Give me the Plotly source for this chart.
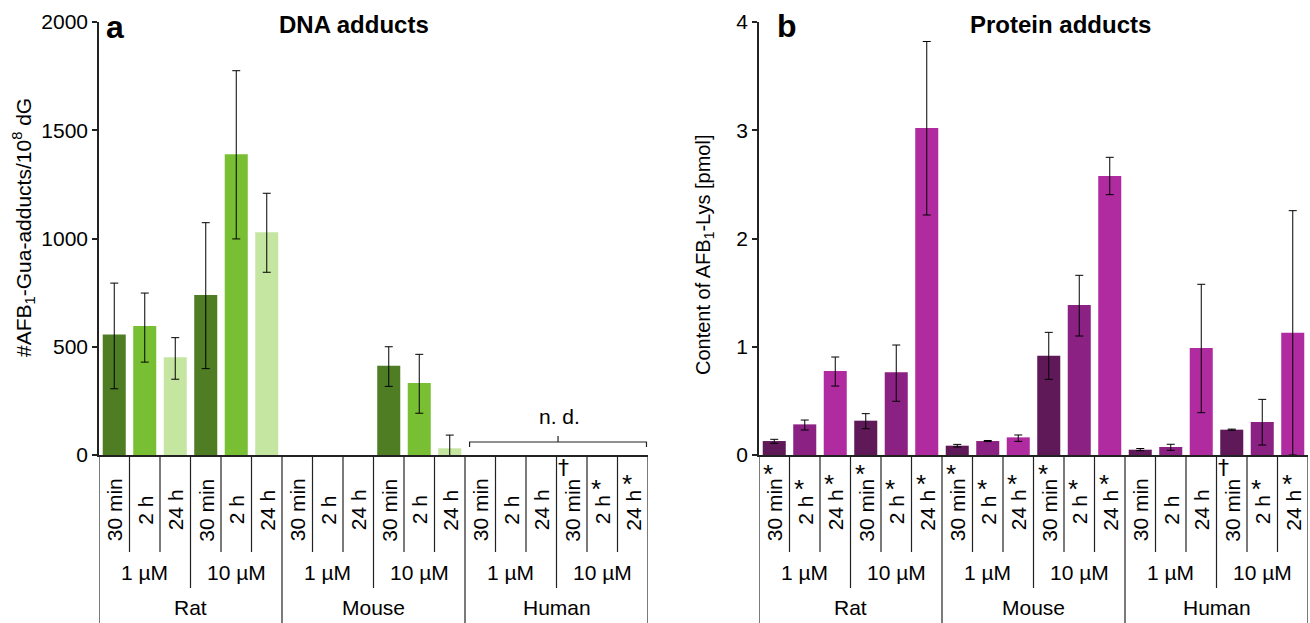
import plotly.graph_objects as go

# ---------------- data ----------------
time_labels = ["30 min", "2 h", "24 h"] * 6
conc_labels = ["1 µM", "10 µM"] * 3
species = ["Rat", "Mouse", "Human"]

# DNA adducts (#AFB1-Gua-adducts / 10^8 dG)
dna_mean = [557, 596, 451, 739, 1389, 1029, None, None, None, 412, 333, 31, None, None, None, None, None, None]
dna_hi = [794, 748, 542, 1073, 1775, 1209, None, None, None, 500, 465, 92, None, None, None, None, None, None]
dna_lo = [306, 429, 350, 399, 998, 844, None, None, None, 317, 193, -38, None, None, None, None, None, None]
dna_marks = ["", "", "", "", "", "", "", "", "", "", "", "", "", "", "", "†", "*", "*"]

# Protein adducts (AFB1-Lys, pmol)
prot_mean = [0.129, 0.283, 0.776, 0.317, 0.764, 3.02, 0.086, 0.129, 0.163, 0.917, 1.386, 2.577, 0.049, 0.074, 0.988, 0.234, 0.305, 1.13]
prot_hi = [0.145, 0.323, 0.905, 0.382, 1.016, 3.82, 0.098, 0.134, 0.185, 1.133, 1.66, 2.75, 0.06, 0.099, 1.577, 0.239, 0.514, 2.257]
prot_lo = [0.108, 0.231, 0.637, 0.243, 0.496, 2.217, 0.074, 0.124, 0.126, 0.699, 1.099, 2.405, 0.04, 0.043, 0.391, 0.229, 0.092, 0.0]
prot_marks = ["*"] * 12 + ["", "", "", "†", "*", "*"]

dna_colors = ["#4e7d24", "#79bf33", "#c4e6a1"]
prot_colors = ["#5f1858", "#8b2183", "#b02aa0"]

FONT = "Liberation Sans, Arial, sans-serif"
W, H = 1310, 623
Y0_PX, Y1_PX = 455, 22


def py(px):
    return (H - px) / H


def errs(mean, hi, lo):
    up = [None if m is None else h - m for m, h in zip(mean, hi)]
    dn = [None if m is None else m - l for m, l in zip(mean, lo)]
    return up, dn


xs = list(range(18))
fig = go.Figure()

up, dn = errs(dna_mean, dna_hi, dna_lo)
fig.add_trace(go.Bar(
    x=xs, y=dna_mean, xaxis="x", yaxis="y",
    marker=dict(color=[dna_colors[i % 3] for i in xs], line=dict(width=0)),
    error_y=dict(type="data", symmetric=False, array=up, arrayminus=dn,
                 color="black", thickness=1, width=4),
    showlegend=False,
))
up, dn = errs(prot_mean, prot_hi, prot_lo)
fig.add_trace(go.Bar(
    x=xs, y=prot_mean, xaxis="x2", yaxis="y2",
    marker=dict(color=[prot_colors[i % 3] for i in xs], line=dict(width=0)),
    error_y=dict(type="data", symmetric=False, array=up, arrayminus=dn,
                 color="black", thickness=1, width=4),
    showlegend=False,
))

ydom = [py(Y0_PX), py(Y1_PX)]
xcommon = dict(range=[-0.5, 17.5], showline=True, linecolor="#222", linewidth=1.5,
               showticklabels=False, ticks="", showgrid=False, zeroline=False,
               fixedrange=True, automargin=False)
ycommon = dict(showline=True, linecolor="#222", linewidth=1.5, ticks="outside", ticklen=5,
               tickwidth=1.5, tickcolor="#222", showgrid=False, zeroline=False, automargin=False,
               tickfont=dict(size=21, color="black", family=FONT))

fig.update_layout(
    width=W, height=H, autosize=False, margin=dict(l=0, r=0, t=0, b=0, pad=0, autoexpand=False),
    paper_bgcolor="white", plot_bgcolor="white",
    bargap=0.245,
    font=dict(family=FONT, color="black"),
    xaxis=dict(domain=[99 / W, 648 / W], anchor="y", **xcommon),
    xaxis2=dict(domain=[759 / W, 1308 / W], anchor="y2", **xcommon),
    yaxis=dict(domain=ydom, anchor="x", range=[0, 2000], tickvals=[0, 500, 1000, 1500, 2000], **ycommon),
    yaxis2=dict(domain=ydom, anchor="x2", range=[0, 4], tickvals=[0, 1, 2, 3, 4], **ycommon),
)

shapes = []
annots = []
label_y = py(510)
star_off = {"30 min": 36, "2 h": 21, "24 h": 26}
dag_off = {"30 min": 43, "2 h": 28, "24 h": 33}

for xr, marks in (("x", dna_marks), ("x2", prot_marks)):
    # dividers
    for i in range(17):
        b = i + 0.5
        if i in (5, 11):
            continue
        bottom = py(588) if i in (2, 8, 14) else py(552)
        shapes.append(dict(type="line", xref=xr, yref="paper", x0=b, x1=b, y0=py(Y0_PX), y1=bottom,
                           line=dict(color="#222", width=1.2)))
    for b in (-0.5, 5.5, 11.5, 17.5):
        shapes.append(dict(type="line", xref=xr, yref="paper", x0=b, x1=b, y0=py(Y0_PX), y1=0,
                           line=dict(color="#222", width=1.2)))
    # time labels
    for i, t in enumerate(time_labels):
        annots.append(dict(x=i, y=label_y, xref=xr, yref="paper", text=t, textangle=-90,
                           showarrow=False, xanchor="center", yanchor="middle",
                           font=dict(size=21, family=FONT, color="black")))
        m = marks[i]
        if m == "*":
            annots.append(dict(x=i, y=label_y, xref=xr, yref="paper", text=m,
                               showarrow=False, xanchor="center", yanchor="middle",
                               xshift=-6, yshift=star_off[t],
                               font=dict(size=26, family=FONT, color="black")))
        elif m:
            annots.append(dict(x=i, y=label_y, xref=xr, yref="paper", text=m,
                               showarrow=False, xanchor="center", yanchor="middle",
                               xshift=-8, yshift=dag_off[t],
                               font=dict(size=22, family="DejaVu Sans", color="#000000")))
    # concentration labels
    for j, c in enumerate(conc_labels):
        annots.append(dict(x=1 + 3 * j, y=py(572), xref=xr, yref="paper", text=c,
                           showarrow=False, xanchor="center", yanchor="middle",
                           font=dict(size=21, family=FONT, color="black")))
    for k, s in enumerate(species):
        annots.append(dict(x=2.5 + 6 * k, y=py(607), xref=xr, yref="paper", text=s,
                           showarrow=False, xanchor="center", yanchor="middle",
                           font=dict(size=21, family=FONT, color="black")))

# n.d. bracket (left panel, human)
shapes.append(dict(type="path", xref="x", yref="y",
                   path="M 11.65,37 L 11.65,60 L 17.45,60 L 17.45,37 M 14.55,60 L 14.55,88",
                   line=dict(color="#222", width=1.2)))
annots.append(dict(x=14.6, y=178, xref="x", yref="y", text="n. d.", showarrow=False,
                   xanchor="center", yanchor="middle", font=dict(size=21, family=FONT, color="black")))

# titles and panel letters
annots += [
    dict(x=115 / W, y=py(27), xref="paper", yref="paper", text="<b>a</b>", showarrow=False,
         xanchor="center", yanchor="middle", font=dict(size=32, family=FONT, color="black")),
    dict(x=787 / W, y=py(26), xref="paper", yref="paper", text="<b>b</b>", showarrow=False,
         xanchor="center", yanchor="middle", font=dict(size=32, family=FONT, color="black")),
    dict(x=354 / W, y=py(24), xref="paper", yref="paper", text="<b>DNA adducts</b>", showarrow=False,
         xanchor="center", yanchor="middle", font=dict(size=24, family=FONT, color="black")),
    dict(x=1060 / W, y=py(24), xref="paper", yref="paper", text="<b>Protein adducts</b>", showarrow=False,
         xanchor="center", yanchor="middle", font=dict(size=24, family=FONT, color="black")),
    dict(x=23 / W, y=py(228), xref="paper", yref="paper",
         text="#AFB<sub>1</sub>-Gua-adducts/10<sup>8</sup> dG", textangle=-90, showarrow=False,
         xanchor="center", yanchor="middle", font=dict(size=21, family=FONT, color="black")),
    dict(x=705 / W, y=py(254), xref="paper", yref="paper",
         text="Content of AFB<sub>1</sub>-Lys [pmol]", textangle=-90, showarrow=False,
         xanchor="center", yanchor="middle", font=dict(size=20, family=FONT, color="black")),
]

fig.update_layout(shapes=shapes, annotations=annots)
fig.write_html(
    "out.html",
    config={"displayModeBar": False},
    post_script="document.body.style.margin='0';document.body.style.padding='0';"
                "document.body.style.overflow='hidden';",
)
